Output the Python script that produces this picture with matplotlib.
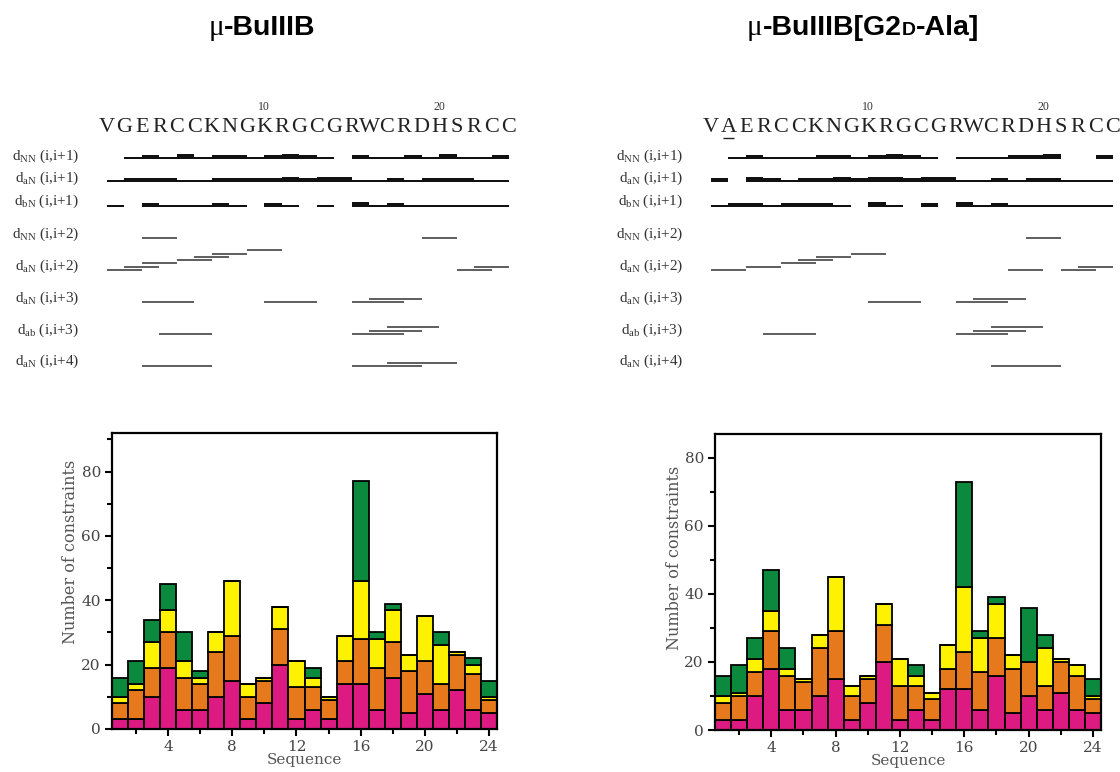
import matplotlib
matplotlib.use("Agg")
import matplotlib.pyplot as plt
from matplotlib.ticker import MultipleLocator
from matplotlib.offsetbox import TextArea, HPacker, AnchoredOffsetbox
import numpy as np

plt.rcParams["mathtext.fontset"] = "custom"
plt.rcParams["mathtext.rm"] = "Liberation Serif"
plt.rcParams["mathtext.it"] = "Liberation Serif:italic"

W, H = 1120, 772

# ---- peptide sequences ----
seq_wt = list("VGERCCKNGKRGCGRWCRDHSRCC")
seq_ala = list("VAERCCKNGKRGCGRWCRDHSRCC")
mutated_residue = 2
residues = np.arange(1, 25)

# ---- constraints per residue, stacked bottom -> top ----
wt_intra = [3, 3, 10, 19, 6, 6, 10, 15, 3, 8, 20, 3, 6, 3, 14, 14, 6, 16, 5, 11, 6, 12, 6, 5]
wt_seq = [5, 9, 9, 11, 10, 8, 14, 14, 7, 7, 11, 10, 7, 6, 7, 14, 13, 11, 13, 10, 8, 11, 11, 4]
wt_medium = [2, 2, 8, 7, 5, 2, 6, 17, 4, 1, 7, 8, 3, 1, 8, 18, 9, 10, 5, 14, 12, 1, 3, 1]
wt_long = [6, 7, 7, 8, 9, 2, 0, 0, 0, 0, 0, 0, 3, 0, 0, 31, 2, 2, 0, 0, 4, 0, 2, 5]

ala_intra = [3, 3, 10, 18, 6, 6, 10, 15, 3, 8, 20, 3, 6, 3, 12, 12, 6, 16, 5, 10, 6, 11, 6, 5]
ala_seq = [5, 7, 7, 11, 10, 8, 14, 14, 7, 7, 11, 10, 7, 6, 6, 11, 11, 11, 13, 10, 7, 9, 10, 4]
ala_medium = [2, 1, 4, 6, 2, 1, 4, 16, 3, 1, 6, 8, 3, 2, 7, 19, 10, 10, 4, 0, 11, 1, 3, 1]
ala_long = [6, 8, 6, 12, 6, 0, 0, 0, 0, 0, 0, 0, 3, 0, 0, 31, 2, 2, 0, 16, 4, 0, 0, 5]

# ---- sequential NOEs: residue i -> strength (1 weak, 2 medium, 3 strong) ----
wt_dnn1 = {2: 1, 3: 2, 4: 1, 5: 3, 6: 1, 7: 2, 8: 2, 9: 1, 10: 2, 11: 3, 12: 2, 13: 1,
           15: 2, 16: 1, 17: 1, 18: 2, 19: 1, 20: 3, 21: 1, 22: 1, 23: 2}
wt_dan1 = {1: 1, 2: 2, 3: 2, 4: 2, 5: 1, 6: 1, 7: 2, 8: 2, 9: 2, 10: 2, 11: 3, 12: 2,
           13: 3, 14: 3, 15: 1, 16: 1, 17: 2, 18: 1, 19: 2, 20: 2, 21: 2, 22: 1, 23: 1}
wt_dbn1 = {1: 1, 3: 2, 4: 1, 5: 1, 6: 1, 7: 2, 8: 1, 10: 2, 11: 1, 13: 1, 15: 3,
           16: 1, 17: 2, 18: 1, 19: 1, 20: 1, 21: 1, 22: 1, 23: 1}

ala_dnn1 = {2: 1, 3: 2, 4: 1, 5: 1, 6: 1, 7: 2, 8: 2, 9: 1, 10: 2, 11: 3, 12: 2, 13: 1,
            15: 1, 16: 1, 17: 1, 18: 2, 19: 2, 20: 3, 23: 2}
ala_dan1 = {1: 2, 3: 3, 4: 2, 5: 1, 6: 2, 7: 2, 8: 3, 9: 2, 10: 3, 11: 3, 12: 2, 13: 3,
            14: 3, 15: 1, 16: 1, 17: 2, 18: 1, 19: 2, 20: 2, 21: 1, 22: 1, 23: 1}
ala_dbn1 = {1: 1, 2: 2, 3: 2, 4: 1, 5: 2, 6: 2, 7: 2, 8: 1, 10: 3, 11: 1, 13: 2,
            15: 3, 16: 1, 17: 2, 18: 1, 19: 1, 20: 1, 21: 1, 22: 1, 23: 1}

# ---- medium-range NOEs: starting residue i ----
wt_dnn2 = [3, 19]
wt_dan2 = [1, 2, 3, 5, 6, 7, 9, 21, 22]
wt_dan3 = [3, 10, 15, 16]
wt_dab3 = [4, 15, 16, 17]
wt_dan4 = [3, 15, 17]

ala_dnn2 = [19]
ala_dan2 = [1, 3, 5, 6, 7, 9, 18, 21, 22]
ala_dan3 = [10, 15, 16]
ala_dab3 = [4, 15, 16, 17]
ala_dan4 = [17]

row_labels = [r"d$_{\rm NN}$ (i,i+1)", r"d$_{\rm aN}$ (i,i+1)", r"d$_{\rm bN}$ (i,i+1)",
              r"d$_{\rm NN}$ (i,i+2)", r"d$_{\rm aN}$ (i,i+2)", r"d$_{\rm aN}$ (i,i+3)",
              r"d$_{\rm ab}$ (i,i+3)", r"d$_{\rm aN}$ (i,i+4)"]

colors = ["#DC1A82", "#E5791B", "#FFF200", "#0B8A3E"]

# layout of the NOE panels, in pixels from the top
label_y = [156, 178, 201, 234, 266, 298, 330, 361]
seq_base = [158.5, 181.5, 206.5]
med_base = [238, 270, 302, 334, 366]
strength_px = {1: 1.6, 2: 3.2, 3: 5.0}
stagger_px = 3.3
res_px = 17.48

fig = plt.figure(figsize=(W / 100, H / 100), dpi=100)


def noe_axes(x0_px, first_px):
    ax = fig.add_axes([x0_px / W, 1 - 380 / H, 560 / W, 290 / H])
    lo = 1 - (first_px - x0_px) / res_px
    ax.set_xlim(lo, lo + 560 / res_px)
    ax.set_ylim(380, 90)
    ax.axis("off")
    return ax


def draw_noe(ax, seq, sequential, medium):
    for i, aa in zip(residues, seq):
        ax.text(i, 127, aa, ha="center", va="center", fontsize=16,
                family="Liberation Serif", color="#222")
    for n in (10, 20):
        ax.text(n, 107, str(n), ha="center", va="center", fontsize=8.5,
                family="Liberation Serif", color="#333")
    for y, lab in zip(label_y, row_labels):
        ax.text(-0.6, y, lab, ha="right", va="center", fontsize=11,
                family="Liberation Serif", color="#333")
    for base, row in zip(seq_base, sequential):
        idx = list(row.keys())
        hts = [-strength_px[s] for s in row.values()]
        ax.bar(idx, hts, width=1, bottom=base, align="edge", color="#111", linewidth=0)
    for base, (span, starts) in zip(med_base, medium):
        level, prev_end = 0, None
        for s in starts:
            if prev_end is not None and s <= prev_end:
                level += 1
            else:
                level = 0
            y = base - level * stagger_px
            ax.hlines(y, s, s + span, color="#333", lw=1.1)
            prev_end = s + span


ax_l = noe_axes(0, 107)
draw_noe(ax_l, seq_wt, [wt_dnn1, wt_dan1, wt_dbn1],
         [(2, wt_dnn2), (2, wt_dan2), (3, wt_dan3), (3, wt_dab3), (4, wt_dan4)])
ax_r = noe_axes(560, 711)
draw_noe(ax_r, seq_ala, [ala_dnn1, ala_dan1, ala_dbn1],
         [(2, ala_dnn2), (2, ala_dan2), (3, ala_dan3), (3, ala_dab3), (4, ala_dan4)])
ax_r.hlines(138, mutated_residue - 0.3, mutated_residue + 0.3, color="#222", lw=1)


def stacked(ax, layers, ymax):
    bottom = np.zeros(len(residues))
    for vals, c in zip(layers, colors):
        ax.bar(residues, vals, width=1, bottom=bottom, color=c,
               edgecolor="black", linewidth=1.3)
        bottom += np.array(vals)
    ax.set_xlim(0.5, 24.5)
    ax.set_ylim(0, ymax)
    ax.xaxis.set_major_locator(MultipleLocator(4))
    ax.xaxis.set_minor_locator(MultipleLocator(2))
    ax.yaxis.set_major_locator(MultipleLocator(20))
    ax.yaxis.set_minor_locator(MultipleLocator(10))
    ax.tick_params(which="both", direction="out", width=1.5, labelsize=11,
                   labelcolor="#444", top=False, right=False)
    ax.tick_params(which="major", length=5, pad=3)
    ax.tick_params(which="minor", length=3.5)
    for lab in ax.get_xticklabels() + ax.get_yticklabels():
        lab.set_family("DejaVu Serif")
    for sp in ax.spines.values():
        sp.set_linewidth(1.6)
    ax.set_xlabel("Sequence", fontsize=11, family="DejaVu Serif", color="#555", labelpad=-1)
    ax.set_ylabel("Number of constraints", fontsize=11.5, family="DejaVu Serif", color="#555")


bar_l = fig.add_axes([112 / W, 1 - 729 / H, 385 / W, 296 / H])
stacked(bar_l, [wt_intra, wt_seq, wt_medium, wt_long], 92)
bar_l.yaxis.set_label_coords(-0.085, 0.6)

bar_r = fig.add_axes([715 / W, 1 - 730 / H, 386 / W, 296 / H])
stacked(bar_r, [ala_intra, ala_seq, ala_medium, ala_long], 87)
bar_r.yaxis.set_label_coords(-0.083, 0.58)


def title(parts, cx, cy):
    boxes = [TextArea(t, textprops=p) for t, p in parts]
    pack = HPacker(children=boxes, align="baseline", pad=0, sep=0)
    anchored = AnchoredOffsetbox(loc="center", child=pack, frameon=False, pad=0,
                                 borderpad=0, bbox_to_anchor=(cx / W, 1 - cy / H),
                                 bbox_transform=fig.transFigure)
    fig.add_artist(anchored)


mu = dict(family="Liberation Serif", size=21, color="black")
bold = dict(family="Liberation Sans", weight="bold", size=20.5, color="black")
small = dict(family="Liberation Sans", weight="bold", size=14, color="black")
title([("\u03bc", mu), ("-BuIIIB", bold)], 262, 28)
title([("\u03bc", mu), ("-BuIIIB[G2", bold), ("D", small), ("-Ala]", bold)], 863, 28)

fig.savefig("out.png", dpi=100)
